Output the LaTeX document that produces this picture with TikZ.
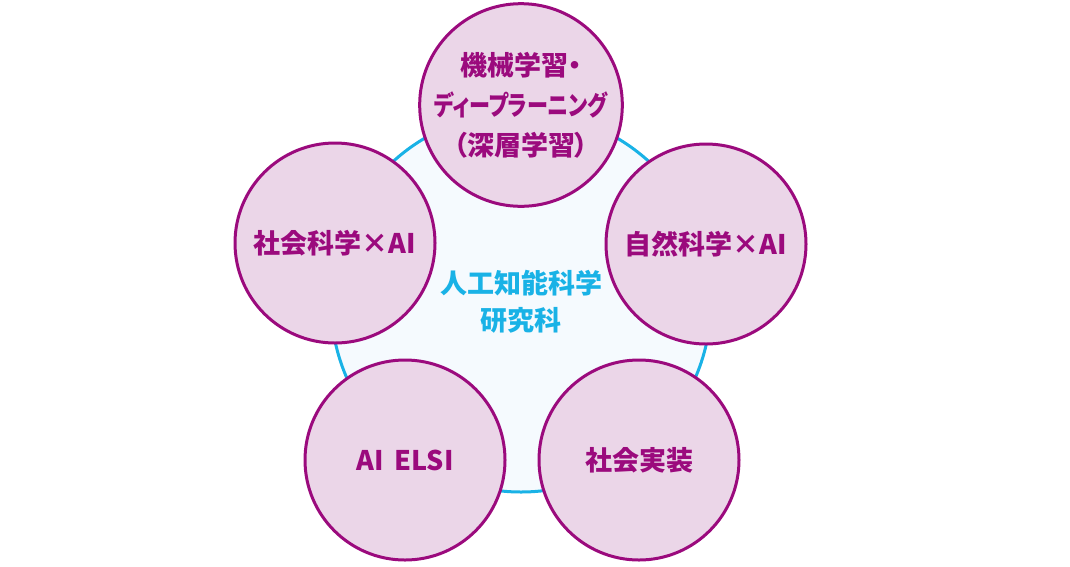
\documentclass[tikz,border=0pt]{standalone}
\usepackage{fontspec}
\setmainfont{Noto Sans CJK JP}[RawFeature=+palt]
\usepackage{tikz}
\usetikzlibrary{positioning,calc}
\definecolor{plum}{RGB}{155,10,125}
\definecolor{plumfill}{RGB}{235,214,232}
\definecolor{sky}{RGB}{25,178,230}
\definecolor{skyfill}{RGB}{245,250,254}
\tikzset{
    hub/.style={draw=sky, fill=skyfill, circle, line width=3pt, minimum size=380pt,
        align=center, text=sky, font=\bfseries\fontsize{27}{37}\selectfont},
    topic/.style={draw=plum, fill=plumfill, circle, line width=3pt, minimum size=200pt,
        inner sep=0pt, align=center, text=plum, font=\bfseries\fontsize{27}{40}\selectfont}
}
\begin{document}
\begin{tikzpicture}[x=1pt, y=-1pt]
            \useasboundingbox (0,0) rectangle (1070,566);
            \node[hub] (Hub) at (521,302) {人工知能科学\\研究科};
            \node[topic] (ML) at ([shift={(0,-197)}]Hub.center) {機械学習・\\\scalebox{0.78}[1]{ディープラーニング}\\（深層学習）};
            \node[topic] (SS) at ([shift={(-186,-59)}]Hub.center) {社会科学×AI};
            \node[topic] (NS) at ([shift={(185,-58)}]Hub.center) {自然科学×AI};
            \node[topic] (ELSI) at ([shift={(-116,158)}]Hub.center) {AI\hspace{0.4em}ELSI};
            \node[topic] (SI) at ([shift={(118,158)}]Hub.center) {社会実装};
        \end{tikzpicture}
\end{document}
